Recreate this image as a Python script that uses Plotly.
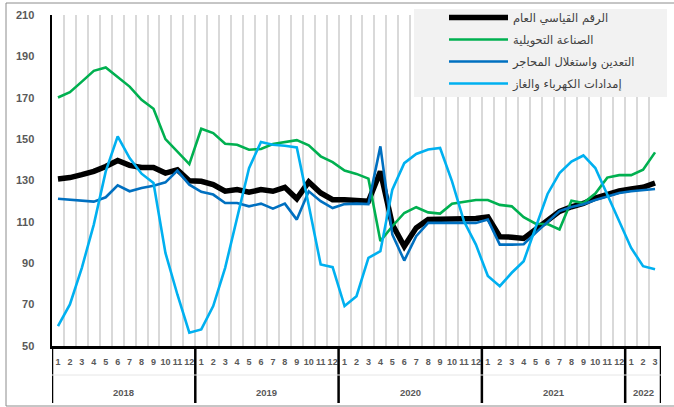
import plotly.graph_objects as go

# ---------------- data ----------------
years = ["2018", "2019", "2020", "2021", "2022"]
months_per_year = [12, 12, 12, 12, 3]
month_labels = [str(m) for n in months_per_year for m in range(1, n + 1)]

series_names = [
    "الرقم القياسي العام",
    "الصناعة التحويلية",
    "التعدين واستغلال المحاجر",
    "إمدادات الكهرباء والغاز",
]

general = [130.7, 131.4, 132.8, 134.4, 136.8, 139.7, 137.3, 136.3, 136.3, 133.6, 135.2, 129.9,
           129.6, 128.0, 124.8, 125.6, 124.3, 125.6, 124.8, 126.7, 121.2, 129.3, 124.0, 120.7,
           120.7, 120.5, 120.0, 134.4, 108.7, 98.2, 107.1, 111.1, 111.1, 111.6, 111.6, 111.6,
           112.4, 102.8, 102.6, 102.0, 106.3, 110.7, 115.1, 117.3, 118.9, 121.5, 123.5, 124.9,
           125.9, 126.7, 128.8]

manufacturing = [170.1, 172.7, 177.8, 183.0, 184.6, 179.8, 175.4, 169.0, 164.7, 150.0, 144.1, 137.9,
                 155.0, 152.9, 147.8, 147.3, 144.9, 145.2, 147.6, 148.4, 149.5, 147.0, 141.7, 138.9,
                 134.8, 133.2, 130.9, 100.7, 107.9, 114.3, 117.1, 114.6, 114.0, 118.8, 119.6, 120.6,
                 120.6, 118.2, 117.5, 112.3, 109.1, 108.9, 106.3, 120.2, 119.1, 123.7, 131.4, 132.6,
                 132.6, 135.2, 143.6]

mining = [121.2, 120.7, 120.3, 119.8, 121.9, 127.7, 124.8, 126.4, 127.5, 129.1, 134.8, 128.0,
          124.5, 123.2, 119.1, 119.1, 117.5, 118.8, 116.4, 118.8, 111.1, 124.8, 120.0, 116.7,
          118.6, 118.8, 118.6, 146.5, 103.9, 91.3, 103.1, 109.5, 109.5, 109.5, 109.5, 109.5,
          111.1, 99.0, 99.0, 99.2, 104.7, 109.9, 115.2, 117.2, 118.5, 120.6, 122.4, 124.0,
          124.8, 125.5, 125.9]

electricity = [59.6, 70.1, 87.8, 108.7, 134.4, 151.3, 140.8, 133.3, 128.8, 95.0, 74.9, 56.4,
               58.0, 69.3, 87.8, 111.9, 136.0, 148.6, 147.3, 146.8, 146.0, 118.0, 89.4, 88.1,
               69.3, 74.1, 92.6, 95.8, 125.6, 138.4, 142.8, 145.0, 145.7, 129.6, 110.3, 99.0,
               83.8, 78.9, 85.4, 91.0, 107.0, 123.5, 133.6, 139.2, 142.1, 136.0, 123.2, 110.7,
               97.4, 88.6, 87.1]

y_ticks = [50, 70, 90, 110, 130, 150, 170, 190, 210]

# ---------------- figure ----------------
W, H = 674, 407
ML, MR, MT, MB = 52, 13, 15, 61
pw, ph = W - ML - MR, H - MT - MB

def px_x(px):
    return (px - ML) / pw

def px_y(py):
    return 1 - (py - MT) / ph

n = len(month_labels)
xs = list(range(n))

colors = ["#000000", "#00b050", "#0070c0", "#00b0f0"]
widths = [5.5, 2.6, 2.6, 2.6]
data = [general, manufacturing, mining, electricity]

fig = go.Figure()
for name, vals, c, w in zip(series_names, data, colors, widths):
    fig.add_trace(go.Scatter(
        x=xs, y=vals, mode="lines", name=name, legendgroup=name,
        line=dict(color=c, width=w),
        hoverinfo="skip",
    ))

tick_font = dict(family="Liberation Sans, Arial, sans-serif", size=9, color="#595959", weight="bold")

fig.update_layout(
    width=W, height=H,
    margin=dict(l=ML, r=MR, t=MT, b=MB, autoexpand=False),
    paper_bgcolor="white", plot_bgcolor="white",
    showlegend=True,
    legend=dict(
        x=px_x(444), y=px_y(3), xanchor="left", yanchor="top",
        bgcolor="rgba(0,0,0,0)", borderwidth=0,
        font=dict(family="DejaVu Sans, sans-serif", size=11.5, color="#404040"),
        itemwidth=59, tracegroupgap=3, traceorder="grouped",
    ),
    xaxis=dict(
        range=[-0.5, n - 0.5],
        tickmode="array", tickvals=xs, ticktext=month_labels,
        ticks="", showgrid=False, zeroline=False,
        showline=True, linecolor="black", linewidth=2.5,
        tickfont=tick_font, ticklabelstandoff=6,
        minor=dict(tickmode="array", tickvals=[i - 0.5 for i in range(n + 1)],
                   showgrid=True, gridcolor="#d9d9d9", gridwidth=2, ticks=""),
        fixedrange=True, automargin=False,
    ),
    yaxis=dict(
        range=[50, 210], tickmode="array", tickvals=y_ticks,
        ticks="", showgrid=False, zeroline=False,
        showline=True, linecolor="black", linewidth=2.5,
        tickfont=dict(family="Liberation Sans, Arial, sans-serif", size=11, color="#595959", weight="bold"),
        ticklabelstandoff=13,
        fixedrange=True, automargin=False,
    ),
)

shapes = []
# legend background box
shapes.append(dict(type="rect", xref="paper", yref="paper",
                   x0=px_x(414), x1=px_x(667), y0=px_y(97), y1=px_y(9),
                   fillcolor="#f2f2f2", line=dict(width=0), layer="above"))

# dividers below the axis at year boundaries
bounds = [-0.5]
acc = -0.5
for m in months_per_year:
    acc += m
    bounds.append(acc)
for b in bounds:
    shapes.append(dict(type="line", xref="x", yref="paper",
                       x0=b, x1=b, y0=px_y(403), y1=0,
                       line=dict(color="black", width=2.5)))
# faint separator between month row and year row
shapes.append(dict(type="line", xref="paper", yref="paper",
                   x0=0, x1=1, y0=px_y(375), y1=px_y(375),
                   line=dict(color="#e6e6e6", width=1)))
# outer chart frame
shapes.append(dict(type="rect", xref="paper", yref="paper",
                   x0=px_x(6), x1=px_x(690), y0=px_y(406), y1=px_y(3),
                   line=dict(color="#8c8c8c", width=1), fillcolor="rgba(0,0,0,0)"))
fig.update_layout(shapes=shapes)

# year labels centred under each group
annotations = []
start = 0
for yname, m in zip(years, months_per_year):
    centre = start + (m - 1) / 2
    annotations.append(dict(x=centre, y=px_y(392), xref="x", yref="paper",
                            text=yname, showarrow=False,
                            font=dict(family="Liberation Sans, Arial, sans-serif", size=9.5,
                                      color="#595959", weight="bold"),
                            xanchor="center", yanchor="middle"))
    start += m
fig.update_layout(annotations=annotations)

fig.write_html("out.html",
               config={"displayModeBar": False, "staticPlot": True},
               post_script="document.body.style.margin='0';document.body.style.overflow='hidden';")
